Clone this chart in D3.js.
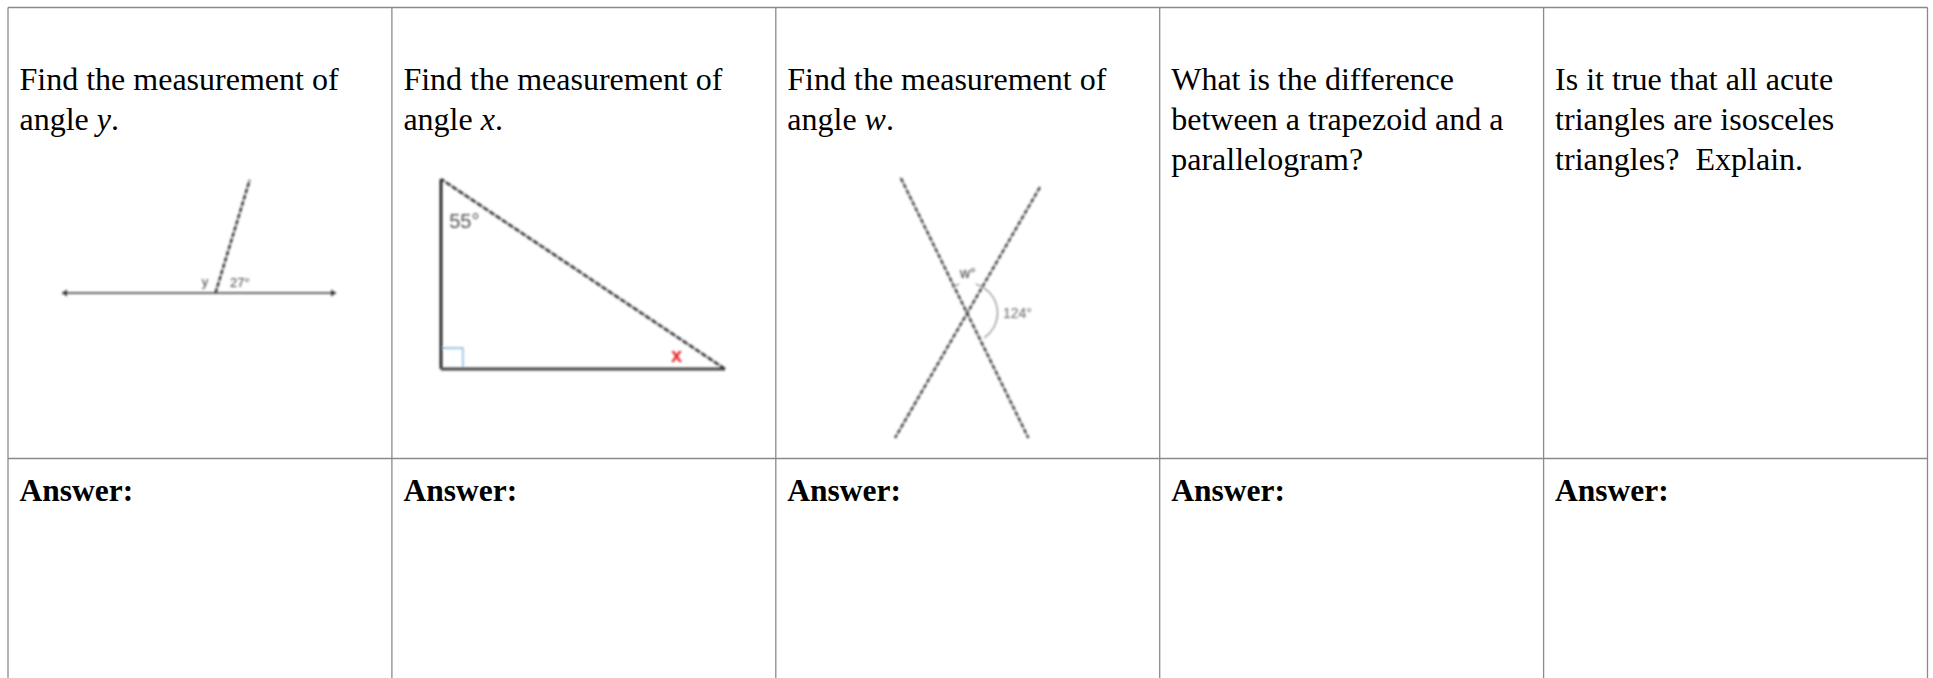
<!DOCTYPE html>
<html>
<head>
<meta charset="utf-8">
<script src="https://cdn.jsdelivr.net/npm/d3@7"></script>
<style>
    html, body { margin: 0; background: #fff; overflow: hidden; }
    text { font-family: "Liberation Serif", serif; fill: #000; }
</style>
</head>
<body>
<svg id="sheet" width="1933" height="678"></svg>
<script>
// [text, italic?] runs per line, one entry per column
const questions = [
    [[['Find the measurement of']], [['angle '], ['y', 1], ['.']]],
    [[['Find the measurement of']], [['angle '], ['x', 1], ['.']]],
    [[['Find the measurement of']], [['angle '], ['w', 1], ['.']]],
    [[['What is the difference']], [['between a trapezoid and a']], [['parallelogram?']]],
    [[['Is it true that all acute']], [['triangles are isosceles']], [['triangles?\u00a0 Explain.']]]
];
const answerLabel = 'Answer:';

const rayLines = [[[0, 100], [100, 100]], [[56, 100], [68.5, 0]]];
const rayLabels = [['y', 51, 93.5], ['27°', 61.3, 94.5]];

const triangle = [[0, 0], [0, 100], [100, 100]];
const rightMark = [[0, 89], [7.7, 89], [7.7, 100]];
const triangleAngle = '55°';
const triangleUnknown = 'x';

const crossLines = [[[4, 0], [92, 100]], [[100, 3.5], [0, 100]]];
const crossLabels = [['w°', 44.8, 38.5], ['124°', 74.5, 53.8]];
const crossArcs = [[0.57, 2.55], [-0.55, -0.28], [0.28, 0.55]];

const svg = d3.select('#sheet');

const defs = svg.append('defs');
defs.append('filter').attr('id', 'soft')
    .attr('x', '-5%').attr('y', '-5%').attr('width', '110%').attr('height', '110%')
    .append('feGaussianBlur').attr('stdDeviation', 0.85);

const colX = d3.scaleLinear().domain([0, 5]).range([8, 1927.5]);
const rowY = d3.scaleLinear().domain([0, 1]).range([7.5, 458.5]);

// grid
const grid = svg.append('g').attr('stroke', '#8a8a8a').attr('stroke-width', 1.3);
d3.range(0, 6).forEach(c => {
    grid.append('line').attr('x1', colX(c)).attr('x2', colX(c)).attr('y1', rowY(0)).attr('y2', 678);
});
[0, 1].forEach(r => {
    grid.append('line').attr('x1', colX(0)).attr('x2', colX(5)).attr('y1', rowY(r)).attr('y2', rowY(r));
});

// question text
questions.forEach((lines, c) => {
    const t = svg.append('text').attr('font-size', 32);
    lines.forEach((runs, i) => {
        runs.forEach((run, j) => {
            const s = t.append('tspan').text(run[0]).attr('font-style', run[1] ? 'italic' : null);
            if (j === 0) s.attr('x', colX(c) + 11.5).attr('y', 89.5 + i * 40.3);
        });
    });
    svg.append('text').attr('x', colX(c) + 11.5).attr('y', 500.5)
        .attr('font-size', 31.5).attr('font-weight', 'bold').text(answerLabel);
});

const figures = svg.append('g').attr('filter', 'url(#soft)');

// figure 1, ray on a line
const x1 = d3.scaleLinear().domain([0, 100]).range([62, 336]);
const y1 = d3.scaleLinear().domain([0, 100]).range([180, 293]);
const line1 = d3.line().x(d => x1(d[0])).y(d => y1(d[1]));
figures.append('path').attr('d', line1(rayLines[0])).attr('fill', 'none')
    .attr('stroke', '#666').attr('stroke-width', 1.8);
figures.append('path').attr('d', line1(rayLines[1])).attr('fill', 'none')
    .attr('stroke', '#333').attr('stroke-width', 2.4).attr('stroke-dasharray', '5 1.5');
[[0, 1], [100, -1]].forEach(([v, dir]) => {
    figures.append('path')
        .attr('d', d3.line()([[x1(v), y1(100)], [x1(v) + dir * 5, y1(100) - 3.5], [x1(v) + dir * 5, y1(100) + 3.5]]))
        .attr('fill', '#333');
});
figures.selectAll('.rayLabel').data(rayLabels).join('text')
    .attr('class', 'rayLabel')
    .attr('x', d => x1(d[1])).attr('y', d => y1(d[2]))
    .attr('font-size', 13).style('font-family', 'Liberation Sans').style('fill', '#444')
    .text(d => d[0]);

// figure 2, right triangle
const x2 = d3.scaleLinear().domain([0, 100]).range([441, 725]);
const y2 = d3.scaleLinear().domain([0, 100]).range([179, 369]);
const line2 = d3.line().x(d => x2(d[0])).y(d => y2(d[1]));
figures.append('path').attr('d', line2(rightMark)).attr('fill', 'none')
    .attr('stroke', '#8fbde0').attr('stroke-width', 1.6);
figures.append('path').attr('d', line2([triangle[0], triangle[1]])).attr('fill', 'none')
    .attr('stroke', '#111').attr('stroke-width', 2.6);
figures.append('path').attr('d', line2([triangle[1], triangle[2]])).attr('fill', 'none')
    .attr('stroke', '#444').attr('stroke-width', 3);
figures.append('path').attr('d', line2([triangle[2], triangle[0]])).attr('fill', 'none')
    .attr('stroke', '#333').attr('stroke-width', 2.5).attr('stroke-dasharray', '6 1.5');
figures.append('text').attr('x', x2(2.9)).attr('y', y2(26))
    .attr('font-size', 20).style('font-family', 'Liberation Sans').style('fill', '#555')
    .text(triangleAngle);
figures.append('text').attr('x', x2(81)).attr('y', y2(96.3))
    .attr('font-size', 20).attr('font-weight', 'bold').style('font-family', 'Liberation Sans').style('fill', '#e8242a')
    .text(triangleUnknown);

// figure 3, crossing lines
const x3 = d3.scaleLinear().domain([0, 100]).range([895, 1040]);
const y3 = d3.scaleLinear().domain([0, 100]).range([178, 438]);
const line3 = d3.line().x(d => x3(d[0])).y(d => y3(d[1]));
figures.selectAll('.cross').data(crossLines).join('path')
    .attr('class', 'cross')
    .attr('d', line3).attr('fill', 'none')
    .attr('stroke', '#444').attr('stroke-width', 2.4).attr('stroke-dasharray', '5 1.5');
const arc = d3.arc().innerRadius(30).outerRadius(30);
const centre = [x3(50), y3(51.9)];
figures.selectAll('.crossArc').data(crossArcs).join('path')
    .attr('class', 'crossArc')
    .attr('transform', `translate(${centre})`)
    .attr('d', a => arc({ startAngle: a[0], endAngle: a[1] }))
    .attr('fill', 'none').attr('stroke', '#888').attr('stroke-width', 1.2);
figures.selectAll('.crossLabel').data(crossLabels).join('text')
    .attr('class', 'crossLabel')
    .attr('x', d => x3(d[1])).attr('y', d => y3(d[2]))
    .attr('font-size', 14).style('font-family', 'Liberation Sans')
    .style('fill', (d, i) => i === 0 ? '#333' : '#666')
    .text(d => d[0]);
</script>
</body>
</html>
